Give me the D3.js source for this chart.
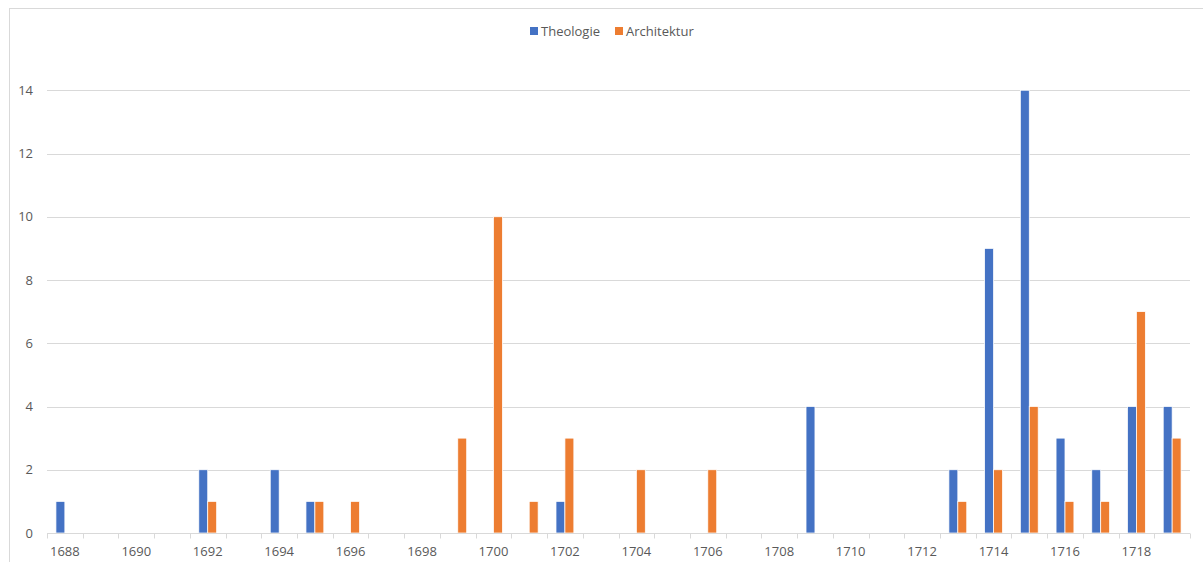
<!DOCTYPE html>
<html>
<head>
<meta charset="utf-8">
<script src="https://cdnjs.cloudflare.com/ajax/libs/d3/7.8.5/d3.min.js"></script>
<style>
    body { margin: 0; background: #ffffff; }
    #graphic text { font-family: "Open Sans", "Noto Sans", sans-serif; fill: #595959; }
</style>
</head>
<body>
<div id="graphic"></div>
<script>
var years = d3.range(1688, 1720);
var seriesNames = ["Theologie", "Architektur"];
var seriesColors = ["#4472C4", "#ED7D31"];

// counts per year, 0 where no bar is drawn
var theologie = [1, 0, 0, 0, 2, 0, 2, 1, 0, 0, 0, 0, 0, 0, 1, 0,
                 0, 0, 0, 0, 0, 4, 0, 0, 0, 2, 9, 14, 3, 2, 4, 4];
var architektur = [0, 0, 0, 0, 1, 0, 0, 1, 1, 0, 0, 3, 10, 1, 3, 0,
                   2, 0, 2, 0, 0, 0, 0, 0, 0, 1, 2, 4, 1, 1, 7, 3];
var yTicks = [0, 2, 4, 6, 8, 10, 12, 14];

var totalWidth = 1203,
    totalHeight = 562;
var margin = {
    top: 27,
    right: 13,
    bottom: 29,
    left: 47
};
var width = totalWidth - margin.left - margin.right,
    height = totalHeight - margin.top - margin.bottom;

var svg = d3.select("#graphic").append("svg")
    .attr("width", totalWidth)
    .attr("height", totalHeight);

// chart area border
svg.append("rect")
    .attr("x", 9.5)
    .attr("y", 8.5)
    .attr("width", totalWidth)
    .attr("height", totalHeight)
    .attr("fill", "none")
    .attr("stroke", "#d9d9d9");

var g = svg.append("g")
    .attr("transform", "translate(" + margin.left + "," + margin.top + ")");

var x = d3.scaleBand()
    .domain(years)
    .range([0, width])
    .paddingInner(0)
    .paddingOuter(0);

var x1 = d3.scaleBand()
    .domain(seriesNames)
    .range([x.bandwidth() * 0.25, x.bandwidth() * 0.75]);

var y = d3.scaleLinear()
    .domain([0, 16])
    .range([height, 0]);

// gridlines
g.append("g")
    .selectAll("line")
    .data(yTicks.slice(1))
    .enter().append("line")
    .attr("x1", 0)
    .attr("x2", width)
    .attr("y1", function (d) { return Math.round(y(d)) + 0.5; })
    .attr("y2", function (d) { return Math.round(y(d)) + 0.5; })
    .attr("stroke", "#d9d9d9")
    .attr("stroke-width", 1);

// y axis labels
var yAxis = d3.axisLeft(y)
    .tickValues(yTicks)
    .tickSize(0)
    .tickPadding(14);
var yG = g.append("g").call(yAxis);
yG.select(".domain").remove();
yG.selectAll("text").attr("font-size", 13);

// bars
var rows = years.map(function (yr, i) {
    return { year: yr, values: [theologie[i], architektur[i]] };
});

var yearG = g.append("g")
    .selectAll("g")
    .data(rows)
    .enter().append("g")
    .attr("transform", function (d) { return "translate(" + x(d.year) + ",0)"; });

yearG.selectAll("rect")
    .data(function (d) {
        return d.values.map(function (v, j) { return { name: seriesNames[j], value: v, color: seriesColors[j] }; });
    })
    .enter().filter(function (d) { return d.value > 0; })
    .append("rect")
    .attr("x", function (d) { return x1(d.name); })
    .attr("y", function (d) { return y(d.value); })
    .attr("width", x1.bandwidth())
    .attr("height", function (d) { return height - y(d.value); })
    .attr("fill", function (d) { return d.color; })
    .attr("stroke", "#ffffff")
    .attr("stroke-width", 0.75);

// x axis
var xAxisG = g.append("g")
    .attr("transform", "translate(0," + (Math.round(height) + 0.5) + ")");

xAxisG.append("line")
    .attr("x1", 0)
    .attr("x2", width)
    .attr("stroke", "#d9d9d9");

xAxisG.selectAll(".tick")
    .data(years.concat([1720]))
    .enter().append("line")
    .attr("x1", function (d, i) { return Math.round(i * x.bandwidth()) + 0.5; })
    .attr("x2", function (d, i) { return Math.round(i * x.bandwidth()) + 0.5; })
    .attr("y1", 0)
    .attr("y2", 5)
    .attr("stroke", "#d9d9d9");

xAxisG.selectAll("text")
    .data(years.filter(function (d) { return d % 2 === 0; }))
    .enter().append("text")
    .attr("x", function (d) { return x(d) + x.bandwidth() / 2; })
    .attr("y", 22)
    .attr("text-anchor", "middle")
    .attr("font-size", 13)
    .text(function (d) { return d; });

// legend
var legendX = [530, 615];
var legend = svg.append("g")
    .selectAll("g")
    .data(seriesNames)
    .enter().append("g")
    .attr("transform", function (d, i) { return "translate(" + legendX[i] + ",27)"; });

legend.append("rect")
    .attr("width", 8)
    .attr("height", 8)
    .attr("fill", function (d, i) { return seriesColors[i]; });

legend.append("text")
    .attr("x", 11)
    .attr("y", 9)
    .attr("font-size", 13)
    .text(function (d) { return d; });
</script>
</body>
</html>
